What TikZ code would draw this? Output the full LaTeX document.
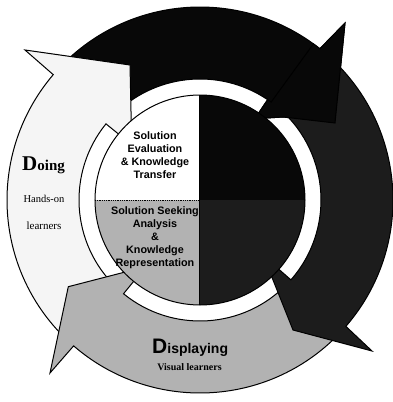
\documentclass[tikz,border=0pt]{standalone}
\usepackage{fontspec}
\setmainfont{Liberation Serif}
\setsansfont{Liberation Sans}
\tikzset{
  arrowshape/.style={draw=black, line width=1pt, line join=miter},
  innertext/.style={font=\sffamily\bfseries\fontsize{10.8}{13}\selectfont, align=center, text=black},
}
\colorlet{doingfill}{black!4}
\colorlet{blackfill}{black!97}
\colorlet{darkfill}{black!89}
\colorlet{dispfill}{black!30}
\begin{document}
\begin{tikzpicture}[x=1pt,y=1pt]
\useasboundingbox (-200,-202) rectangle (192,200);
\fill[white] (-200,-202) rectangle (192,200);
% black arrow (top)
\path[arrowshape, fill=blackfill] (136.5:193) arc[start angle=136.5, end angle=51.6, radius=193]
  -- (145,177) -- (135,77) -- (83,83) -- (56:98) -- (56:121)
  arc[start angle=56, end angle=136.5, radius=121] -- cycle;
% Doing arrow (left)
\path[arrowshape, fill=doingfill] (226:193) arc[start angle=226, end angle=139.5, radius=193]
  -- (-175,150) -- (-70,135) -- (-68.6,70) -- (141:98) -- (141:121)
  arc[start angle=141, end angle=226, radius=121] -- cycle;
% Displaying arrow (bottom)
\path[arrowshape, fill=dispfill] (316:193) arc[start angle=316, end angle=229.1, radius=193]
  -- (-150,-173) -- (-131.7,-86.7) -- (-69,-70.5) -- (230.8:98) -- (230.8:121)
  arc[start angle=230.8, end angle=316, radius=121] -- cycle;
% dark arrow (right)
\path[arrowshape, fill=darkfill] (48:193) arc[start angle=48, end angle=-40.9, radius=193]
  -- (172,-151) -- (93,-130) -- (69,-70) -- (-41.3:98) -- (-41.3:121)
  arc[start angle=-41.3, end angle=48, radius=121] -- cycle;
% black arrow head again, over the dark tail
\path[arrowshape, fill=blackfill] (54:193) arc[start angle=54, end angle=51.6, radius=193]
  -- (145,177) -- (135,77) -- (83,83) -- (56:98) -- (56:121)
  arc[start angle=56, end angle=54, radius=121] -- cycle;
% inner circle quadrants
\fill[white] (0,0) -- (180:105) arc[start angle=180, end angle=90, radius=105] -- cycle;
\fill[blackfill] (0,0) -- (90:105) arc[start angle=90, end angle=0, radius=105] -- cycle;
\fill[darkfill] (0,0) -- (0:105) arc[start angle=0, end angle=-90, radius=105] -- cycle;
\fill[dispfill] (0,0) -- (270:105) arc[start angle=270, end angle=180, radius=105] -- cycle;
\node[innertext] (evaltext) at (-45,45) {Solution\\Evaluation\\\& Knowledge\\Transfer};
\begin{scope}
  \clip (-105,0) rectangle (0,-105);
  \node[innertext] (seektext) at (-45,-38) {Solution Seeking\\Analysis\\\&\\Knowledge\\Representation};
\end{scope}
\draw[line width=1pt] (0,105) -- (0,-105);
\draw[line width=0.8pt, densely dotted] (-105,0) -- (0,0);
\draw[line width=1pt] (0,0) circle[radius=105];
% labels
\node[anchor=base west, inner sep=0pt] (doing) at (-178,30)
  {\bfseries\fontsize{21}{21}\selectfont D\fontsize{15}{15}\selectfont oing};
\node[anchor=base, inner sep=0pt, font=\fontsize{10.5}{12}\selectfont] (handson) at (-156,-2) {Hands-on};
\node[anchor=base, inner sep=0pt, font=\fontsize{11}{12}\selectfont] (learners) at (-156,-29) {learners};
\node[anchor=base west, inner sep=0pt] (displaying) at (-48,-153)
  {\sffamily\bfseries\fontsize{21}{21}\selectfont D\fontsize{14}{14}\selectfont isplaying};
\node[anchor=base, inner sep=0pt, font=\bfseries\fontsize{10}{12}\selectfont] (visual) at (-10.5,-170) {Visual learners};
\end{tikzpicture}
\end{document}
